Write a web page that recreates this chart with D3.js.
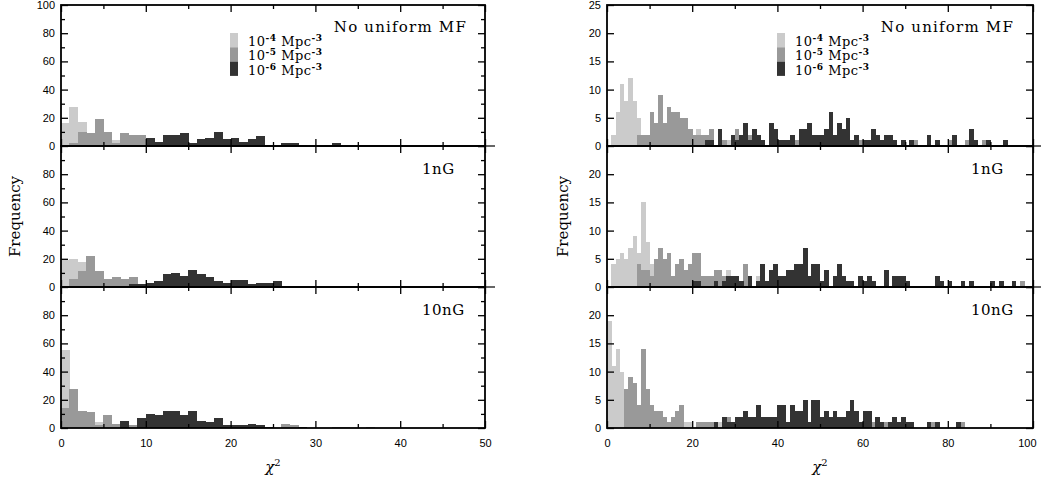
<!DOCTYPE html>
<html><head><meta charset="utf-8">
<script src="https://cdn.jsdelivr.net/npm/d3@7"></script>
<style>body{margin:0;background:#fff}svg{display:block}</style>
</head><body><svg id="c" width="1041" height="482"></svg>
<script>
// ---------- DATA ----------
const seriesNames = ["10^-4", "10^-5", "10^-6"];
const panelLabels = ["No uniform MF", "1nG", "10nG"];
const leftXTicks = [0, 10, 20, 30, 40, 50];
const rightXTicks = [0, 20, 40, 60, 80, 100];
const leftYTicksTop = [0, 20, 40, 60, 80, 100];
const leftYTicks = [0, 20, 40, 60, 80];
const rightYTicksTop = [0, 5, 10, 15, 20, 25];
const rightYTicks = [0, 5, 10, 15, 20];

// left column: chi^2 bins of width 1, 0..50
const L0_light = [16,28,17,8,6,3,4,2,1,1, 0,0,0,0,0,0,0,0,0,0, 0,0,0,0,0,0,0,0,0,0, 0,0,0,0,0,0,0,0,0,0, 0,0,0,0,0,0,0,0,0,0];
const L0_mid   = [0,2,10,9,19,10,2,9,8,8, 3,2,1,2,1,1,1,0,0,0, 0,0,0,0,0,0,0,0,0,0, 0,0,0,0,0,0,0,0,0,0, 0,0,0,0,0,0,0,0,0,0];
const L0_dark  = [0,0,0,0,0,0,0,1,1,1, 6,3,8,8,9,2,5,6,10,5, 6,3,5,7,1,0,2,2,1,0, 0,1,2,0,0,1,1,1,0,0, 0,0,0,0,0,0,0,0,0,0];

const L1_light = [19,20,18,8,5,3,2,1,0,0, 0,0,0,0,0,0,0,0,0,0, 0,0,0,0,0,0,0,0,0,0, 0,0,0,0,0,0,0,0,0,0, 0,0,0,0,0,0,0,0,0,0];
const L1_mid   = [0,6,11,22,11,6,7,6,7,1, 1,1,0,0,0,0,0,0,0,0, 0,0,0,0,0,0,0,0,0,0, 0,0,0,1,0,0,1,0,0,0, 0,0,0,0,0,1,0,0,0,0];
const L1_dark  = [0,0,0,0,0,0,1,1,2,2, 3,4,9,10,8,12,9,7,4,3, 5,5,2,3,3,4,1,0,0,0, 0,0,0,0,0,0,0,0,0,1, 0,0,0,0,0,0,0,0,0,1];

const L2_light = [55,20,10,6,4,3,2,1,1,1, 0,0,0,0,0,0,0,0,0,0, 0,0,0,0,0,0,0,0,0,0, 0,0,0,0,0,0,0,0,0,0, 0,0,0,0,0,0,0,0,0,0];
const L2_mid   = [14,28,12,11,2,9,3,2,2,1, 0,0,0,0,0,0,0,0,0,0, 0,0,0,0,1,0,3,2,0,0, 0,0,1,1,0,0,1,0,0,0, 0,0,0,0,0,0,0,0,0,0];
const L2_dark  = [0,0,0,0,0,0,0,5,0,7, 10,9,12,12,9,12,5,4,7,2, 2,2,3,2,1,0,0,0,1,0, 0,0,0,0,0,0,0,0,0,0, 0,0,0,0,0,0,0,0,0,0];

// right column: chi^2 bins of width 1, 0..100
const R0_light = [0,2,6,11,8,12,8,5,0,0, 0,0,0,0,0,0,0,0,0,0, 0,3,0,0,0,0,0,0,1,0, 0,0,0,0,0,0,0,0,0,0,
                  0,0,0,0,0,0,0,0,0,0, 0,0,0,0,0,0,0,0,0,0, 0,0,0,0,0,0,0,0,0,0, 0,0,0,0,0,0,0,0,0,0, 0,0,0,0,0,0,0,0,0,0, 0,0,0,0,0,0,0,0,0,0];
const R0_mid   = [0,0,0,0,0,0,0,2,2,2, 6,4,9,4,7,6,6,5,5,3, 2,2,2,2,3,0,0,1,0,0, 3,0,0,2,0,0,0,0,0,0,
                  0,0,0,0,1,0,0,0,0,0, 0,0,0,0,0,0,0,0,0,1, 0,0,0,0,0,0,0,0,0,0, 0,0,1,0,0,0,0,0,0,0, 1,0,0,0,1,0,0,0,1,0, 0,0,0,0,0,0,0,0,0,0];
const R0_dark  = [0,0,0,0,0,0,0,0,0,0, 0,0,0,0,0,0,0,0,0,0, 0,0,0,1,1,0,3,0,0,2, 1,2,4,1,3,2,1,0,4,3,
                  1,1,1,2,0,3,3,4,2,2, 2,3,6,2,4,3,5,1,2,0, 1,1,3,2,1,2,2,1,0,1, 0,1,0,0,0,2,0,1,0,0, 0,2,0,0,0,3,1,0,0,1, 0,0,0,1,0,0,0,0,0,0];

const R1_light = [0,4,5,6,5,7,9,6,15,8, 4,0,0,0,0,0,0,0,0,0, 0,0,2,0,0,0,0,0,3,0, 0,0,0,0,0,2,0,0,0,0,
                  0,0,0,0,0,0,0,0,0,0, 0,0,0,0,0,0,0,0,0,0, 0,0,0,0,0,0,0,0,0,0, 0,0,0,0,0,0,0,0,0,0, 0,0,0,0,0,0,0,0,0,0, 0,0,0,0,0,0,0,0,0,0];
const R1_mid   = [0,0,0,0,0,0,0,4,3,3, 2,5,7,5,6,2,4,5,3,4, 6,6,2,2,2,3,3,2,1,0, 0,0,4,0,0,0,0,0,0,0,
                  0,0,0,0,0,0,0,0,0,0, 0,0,0,0,0,0,0,0,0,0, 0,0,0,0,0,0,0,0,0,0, 0,0,0,0,0,0,0,0,0,0, 0,0,0,0,0,0,0,0,0,0, 0,0,0,0,0,0,0,1,0,0];
const R1_dark  = [0,0,0,0,0,0,0,0,0,0, 0,0,0,0,0,0,0,0,0,0, 1,1,0,0,0,1,0,1,2,2, 2,1,0,2,0,1,4,1,3,4,
                  2,2,3,3,4,4,7,2,4,4, 1,3,0,2,4,2,1,1,0,2, 1,2,1,0,0,3,0,2,2,2, 1,0,0,0,0,0,0,2,1,0, 1,0,0,1,0,1,0,0,0,0, 1,0,1,0,0,1,0,0,0,0];

const R2_light = [19,11,14,10,3,0,0,0,0,0, 0,0,0,0,0,0,0,0,1,1, 0,0,0,0,0,0,1,0,0,0, 0,0,0,0,0,0,0,0,0,0,
                  0,0,0,0,0,0,0,0,0,0, 0,0,0,0,0,0,0,0,0,0, 0,0,0,0,0,0,0,0,0,0, 0,0,0,0,0,0,0,0,0,0, 0,0,0,0,0,0,0,0,0,0, 0,0,0,0,0,0,0,0,0,0];
const R2_mid   = [0,0,0,0,7,9,8,4,14,7, 4,3,3,2,1,2,3,4,0,0, 0,1,1,1,1,0,0,0,2,0, 0,0,0,0,0,0,0,0,0,0,
                  0,0,0,0,0,0,0,0,0,0, 0,0,0,0,0,0,0,0,0,0, 0,0,1,0,0,1,0,0,0,0, 0,0,0,0,0,0,1,0,0,0, 0,0,0,1,0,0,0,0,0,0, 0,0,0,0,0,0,0,0,0,0];
const R2_dark  = [0,0,0,0,0,0,0,0,0,0, 0,0,0,0,0,0,0,0,0,0, 0,0,0,0,0,1,0,2,1,1, 2,2,3,2,2,4,2,2,2,2,
                  4,4,1,4,3,3,5,1,5,5, 2,3,2,3,2,2,3,5,3,1, 3,3,0,2,1,0,1,2,1,2, 1,1,0,0,0,1,0,1,0,0, 0,0,1,0,0,0,0,0,0,0, 0,0,0,0,0,0,0,0,0,0];

// ---------- DRAW ----------
const colors = ["#cbcbcb", "#999999", "#333333"];
const svg = d3.select("#c");
const serif = "'DejaVu Serif', serif";
const sans = "'Liberation Sans', Arial, sans-serif";

const rowTops = [5, 146, 287];
const rowH = 141;

const columns = [
  { x0: 61, x1: 485, xmax: 50, xMajor: leftXTicks, xMinorStep: 5, ymax: 100,
    yTop: leftYTicksTop, yRest: leftYTicks, yMinorStep: 10,
    data: [[L0_light, L0_mid, L0_dark], [L1_light, L1_mid, L1_dark], [L2_light, L2_mid, L2_dark]],
    labelX: [467, 422, 422], legendX: 230, ylabX: 15, xlabX: 273 },
  { x0: 607, x1: 1033, xmax: 100, xMajor: rightXTicks, xMinorStep: 10, ymax: 25,
    yTop: rightYTicksTop, yRest: rightYTicks, yMinorStep: null,
    data: [[R0_light, R0_mid, R0_dark], [R1_light, R1_mid, R1_dark], [R2_light, R2_mid, R2_dark]],
    labelX: [1014, 971, 971], legendX: 777, ylabX: 563, xlabX: 820 }
];

function styleAxis(g) {
  g.select(".domain").remove();
  g.selectAll(".tick line").attr("stroke", "#000").attr("stroke-width", 1.3);
  g.selectAll(".tick text").attr("font-family", sans).attr("font-size", 11).attr("fill", "#000");
}

columns.forEach((col, c) => {
  const x = d3.scaleLinear().domain([0, col.xmax]).range([col.x0, col.x1]);
  const xMinor = d3.range(0, col.xmax + 0.001, col.xMinorStep).filter(v => !col.xMajor.includes(v));
  rowTops.forEach((top, r) => {
    const y = d3.scaleLinear().domain([0, col.ymax]).range([top + rowH, top]);
    const g = svg.append("g");
    // bars: light, then mid, then dark on top
    col.data[r].forEach((vals, s) => {
      g.append("g").attr("shape-rendering", "crispEdges").selectAll("rect")
        .data(vals.map((v, i) => ({ i, v })).filter(d => d.v > 0))
        .join("rect")
        .attr("x", d => x(d.i))
        .attr("width", d => x(d.i + 1) - x(d.i) + 0.4)
        .attr("y", d => y(d.v))
        .attr("height", d => y(0) - y(d.v))
        .attr("fill", colors[s]);
    });
    // ticks
    const yTicks = r === 0 ? col.yTop : col.yRest;
    const yMinor = col.yMinorStep ? d3.range(0, col.ymax + 0.001, col.yMinorStep).filter(v => !col.yTop.includes(v)) : [];
    g.append("g").attr("transform", `translate(${col.x0},0)`)
      .call(d3.axisLeft(y).tickValues(yTicks).tickSizeInner(-7).tickSizeOuter(0).tickPadding(6).tickFormat(d3.format("d")))
      .call(styleAxis);
    g.append("g").attr("transform", `translate(${col.x0},0)`)
      .call(d3.axisLeft(y).tickValues(yMinor).tickSizeInner(-4).tickSizeOuter(0).tickFormat(""))
      .call(styleAxis);
    g.append("g").attr("transform", `translate(${col.x1},0)`)
      .call(d3.axisRight(y).tickValues(col.yTop).tickSizeInner(-7).tickSizeOuter(0).tickFormat(""))
      .call(styleAxis);
    g.append("g").attr("transform", `translate(${col.x1},0)`)
      .call(d3.axisRight(y).tickValues(yMinor).tickSizeInner(-4).tickSizeOuter(0).tickFormat(""))
      .call(styleAxis);
    const bottomAxis = d3.axisBottom(x).tickValues(col.xMajor).tickSizeInner(-7).tickSizeOuter(0).tickPadding(11);
    if (r !== 2) bottomAxis.tickFormat("");
    const bg = g.append("g").attr("transform", `translate(0,${top + rowH})`).call(bottomAxis).call(styleAxis);
    if (r === 2 && c === 1) {
      // keep the last label inside the window
      bg.selectAll(".tick text").filter(d => d === col.xmax).attr("text-anchor", "end").attr("x", 3);
    }
    g.append("g").attr("transform", `translate(0,${top + rowH})`)
      .call(d3.axisBottom(x).tickValues(xMinor).tickSizeInner(-4).tickSizeOuter(0).tickFormat("")).call(styleAxis);
    g.append("g").attr("transform", `translate(0,${top})`)
      .call(d3.axisTop(x).tickValues(col.xMajor).tickSizeInner(-7).tickSizeOuter(0).tickFormat("")).call(styleAxis);
    g.append("g").attr("transform", `translate(0,${top})`)
      .call(d3.axisTop(x).tickValues(xMinor).tickSizeInner(-4).tickSizeOuter(0).tickFormat("")).call(styleAxis);
    // frame
    g.append("rect").attr("x", col.x0).attr("y", top).attr("width", col.x1 - col.x0).attr("height", rowH)
      .attr("fill", "none").attr("stroke", "#000").attr("stroke-width", 1.8);
    if (r < 2) {
      g.append("line").attr("x1", col.x1).attr("x2", col.x1 + 10).attr("y1", top + rowH).attr("y2", top + rowH)
        .attr("stroke", "#000").attr("stroke-width", 1.2);
    }
    // panel label
    const lab = g.append("text").attr("font-family", serif).attr("font-size", 15).attr("fill", "#000")
      .attr("y", top + (r === 0 ? 27 : 28))
      .text(panelLabels[r]);
    if (r === 0) lab.attr("x", col.labelX[r]).attr("text-anchor", "end").attr("letter-spacing", 1.2);
    else lab.attr("x", col.labelX[r]).attr("letter-spacing", 0.5);
    // legend
    if (r === 0) {
      const exps = ["-4", "-5", "-6"];
      exps.forEach((e, k) => {
        g.append("rect").attr("x", col.legendX).attr("y", top + 28 + k * 14.3)
          .attr("width", 8).attr("height", 14.3).attr("fill", colors[k]);
        const t = g.append("text").attr("x", col.legendX + 18).attr("y", top + 41 + k * 14.3)
          .attr("font-family", serif).attr("font-size", 13).attr("fill", "#000").attr("letter-spacing", 0.5);
        t.append("tspan").text("10");
        t.append("tspan").attr("dy", -5).attr("font-size", 9).attr("font-weight", "bold").text(e);
        t.append("tspan").attr("dy", 5).text(" Mpc");
        t.append("tspan").attr("dy", -5).attr("font-size", 9).attr("font-weight", "bold").text("-3");
      });
    }
  });
  // axis titles
  svg.append("text").attr("transform", `translate(${col.ylabX},${rowTops[0] + 1.5 * rowH}) rotate(-90)`)
    .attr("text-anchor", "middle").attr("dy", "0.35em").attr("font-family", serif).attr("font-size", 15)
    .text("Frequency");
  const xt = svg.append("text").attr("x", col.xlabX).attr("y", 472).attr("text-anchor", "middle")
    .attr("font-family", serif).attr("font-size", 15);
  xt.append("tspan").attr("font-style", "italic").text("χ");
  xt.append("tspan").attr("dy", -6).attr("font-size", 10).text("2");
});
</script>
</body></html>
